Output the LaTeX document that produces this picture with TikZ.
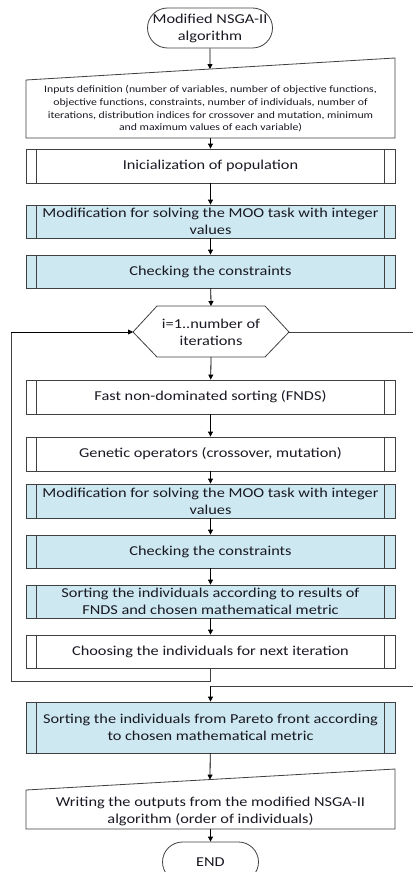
\documentclass[tikz,border=0pt]{standalone}
\usepackage{fontspec}
\setmainfont{Carlito}[FakeStretch=1.2]
\usetikzlibrary{arrows.meta,calc}
\definecolor{boxblue}{RGB}{205,232,240}
\definecolor{lineg}{RGB}{64,64,64}
\definecolor{txt}{RGB}{25,25,35}
\begin{document}
\begin{tikzpicture}[x=1pt,y=-1pt,line width=0.8pt,
  every node/.style={text=txt},
  flow/.style={draw=black,-{Triangle[length=5pt,width=5pt]}},
  conn/.style={draw=lineg},
  mainfont/.style={font=\fontsize{13.6}{17}\selectfont},
  proc/.style={mainfont,draw=lineg,minimum width=369pt,minimum height=34pt,inner sep=0pt,align=center},
  blueproc/.style={proc,fill=boxblue},
  term/.style={mainfont,draw=lineg,rounded corners=20pt,minimum height=40pt,inner sep=0pt,align=center},
  small/.style={font=\fontsize{9.8}{12.7}\selectfont,align=center,inner sep=0pt},
  bars/.style={draw=lineg}
]
\useasboundingbox (0,0) rectangle (413,872);
\newcommand{\procbars}[1]{%
  \draw[bars] ([xshift=11pt]#1.north west) -- ([xshift=11pt]#1.south west);
  \draw[bars] ([xshift=-11pt]#1.north east) -- ([xshift=-11pt]#1.south east);}

% start
\node[term,minimum width=125pt] (start) at (210,28) {Modified NSGA-II\\algorithm};

% inputs (manual input)
\coordinate (in1) at (26,80);
\coordinate (in2) at (395,58);
\coordinate (in3) at (395,138);
\coordinate (in4) at (26,138);
\draw[lineg,fill=white] (in1) -- (in2) -- (in3) -- (in4) -- cycle;
\coordinate (inTop) at ($(in1)!0.4986!(in2)$);
\node[small] (inp) at (210.5,109) {Inputs definition (number of variables, number of objective functions,\\objective functions, constraints, number of individuals, number of\\iterations, distribution indices for crossover and mutation, minimum\\and maximum values of each variable)};
\coordinate (inBot) at (210.5,138);

% boxes
\node[proc] (init) at (210.5,166) {Inicialization of population};
\node[blueproc,minimum height=33pt] (mod1) at (210.5,221.5) {Modification for solving the MOO task with integer\\values};
\node[blueproc,minimum height=33pt] (chk1) at (210.5,271.5) {Checking the constraints};

% hexagon loop
\coordinate (hL) at (133,332);
\coordinate (hR) at (289,332);
\coordinate (hT) at (211,306);
\coordinate (hB) at (211,357);
\draw[lineg] (hL) -- (157,306) -- (265,306) -- (hR) -- (265,357) -- (157,357) -- cycle;
\node[mainfont,align=center,inner sep=0pt] (loop) at (211,332) {i=1..number of\\iterations};

\node[proc] (fnds) at (210.5,397) {Fast non-dominated sorting (FNDS)};
\node[proc] (gen) at (210.5,454) {Genetic operators (crossover, mutation)};
\node[blueproc] (mod2) at (210.5,501) {Modification for solving the MOO task with integer\\values};
\node[blueproc,minimum height=33pt] (chk2) at (210.5,551.5) {Checking the constraints};
\node[blueproc,minimum height=33pt] (sort1) at (210.5,601.5) {Sorting the individuals according to results of\\FNDS and chosen mathematical metric};
\node[proc,minimum height=33pt] (choose) at (210.5,651.5) {Choosing the individuals for next iteration};

\node[blueproc,minimum height=51pt] (sortP) at (210.5,727.5) {Sorting the individuals from Pareto front according\\to chosen mathematical metric};

% output (manual input)
\coordinate (o1) at (26,790);
\coordinate (o2) at (395,769);
\coordinate (o3) at (395,829);
\coordinate (o4) at (26,829);
\draw[lineg,fill=white] (o1) -- (o2) -- (o3) -- (o4) -- cycle;
\coordinate (oTop) at ($(o1)!0.4986!(o2)$);
\coordinate (oBot) at (210.5,829);
\node[mainfont,align=center,inner sep=0pt] (outp) at (210.5,811) {Writing the outputs from the modified NSGA-II\\algorithm (order of individuals)};

\node[term,minimum width=96pt] (endn) at (210.5,862) {END};

\foreach \n in {init,mod1,chk1,fnds,gen,mod2,chk2,sort1,choose,sortP}{\procbars{\n}}

% connectors
\draw[flow] (start) -- (inTop);
\draw[flow] (inBot) -- (init);
\draw[flow] (init) -- (mod1);
\draw[flow] (mod1) -- (chk1);
\draw[flow] (chk1) -- (hT);
\draw[flow] (hB) -- (fnds);
\draw[flow] (fnds) -- (gen);
\draw[flow] (gen) -- (mod2);
\draw[flow] (mod2) -- (chk2);
\draw[flow] (chk2) -- (sort1);
\draw[flow] (sort1) -- (choose);
\coordinate (lp1) at (210.5,681);
\coordinate (lp2) at (11,681);
\coordinate (lp3) at (11,332);
\draw[conn] (choose) -- (lp1) -- (lp2) -- (lp3);
\draw[flow] (lp3) -- (hL);
\coordinate (ex1) at (413,332);
\draw[conn] (hR) -- (ex1);
\coordinate (ex2) at (413,686);
\coordinate (ex3) at (210.5,686);
\draw[conn] (ex2) -- (ex3);
\draw[flow] (ex3) -- (sortP);
\draw[flow] (sortP) -- (oTop);
\draw[flow] (oBot) -- (endn);
\end{tikzpicture}
\end{document}
